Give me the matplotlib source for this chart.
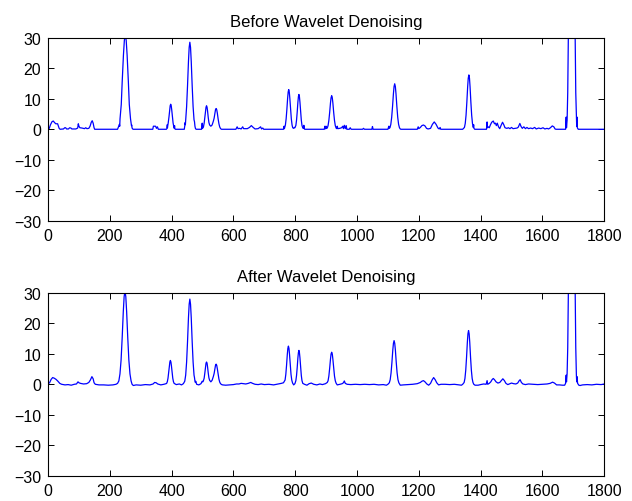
import numpy as np
import matplotlib
matplotlib.use('Agg')
import matplotlib.pyplot as plt

plt.rcParams['font.family'] = ['Liberation Sans', 'DejaVu Sans']

# (sample index, amplitude) vertices of the raw signal
before = np.array([
    (0, 0.3), (4, 0.3), (8, 1.5), (13, 2.5), (17, 2.7), (21, 2.2), (25, 1.8), (31, 1.8), (33, 1.2),
    (36, 0.3), (39, 0), (50, 0.1), (54, 0.5), (57, 0.5), (60, 0.1), (66, 0.1), (70, 0.5), (74, 0.4),
    (77, 0.1), (90, 0.1), (96, 0.4), (98, 1.8), (100, 1.0), (103, 0.5), (110, 0.4), (118, 0.2),
    (122, 0.5), (126, 0.2), (132, 0.3), (136, 1.0), (140, 2.3), (143, 2.8), (146, 2.0), (149, 0.5),
    (151, 0), (225, 0), (229, 1.1), (231, 1.6), (232, 1.0), (233, 3.4), (237, 8.1), (240, 15.5),
    (244, 24.2), (247, 29.1), (250, 31), (253, 29.1), (256, 24.2), (260, 15.5), (263, 8.1), (267, 3.4),
    (270, 1.2), (271, 1.4), (272, 0.4), (275, 0),
    (339, 0), (341, 1.0), (348, 1.0), (351, 0.3), (354, 0.8), (357, 0),
    (383, 0), (385, 0.3), (386, 1.5), (386.5, 0.5), (387, 0.9), (389, 2.1), (391.5, 4.1), (393.7, 6.4),
    (395.3, 7.7), (397, 8.2), (398.7, 7.7), (400.3, 6.4), (402.5, 4.1), (404.7, 2.1), (406.9, 0.9),
    (408.5, 0.3), (409.5, 1.2), (410.5, 0.2), (412, 0),
    (441, 0), (442.5, 1.0), (444, 2.2), (444.5, 1.5), (445.5, 3.1), (448.5, 7.4), (451.5, 14.3),
    (454.5, 22.2), (456.8, 26.8), (459, 28.5), (461.2, 26.8), (463.5, 22.2), (466.5, 14.3), (469.5, 7.4),
    (472.5, 3.1), (474, 2.5), (475.5, 1.0), (477, 0.3), (479, 0),
    (497, 0), (499, 2), (500, 0.3), (503, 0.8), (505.3, 2.0), (507.5, 3.85), (509.7, 6.0), (511.3, 7.2),
    (513, 7.7), (514.7, 7.2), (516.3, 6.0), (518.5, 3.85), (520.7, 2.2), (523, 1.4), (527, 1.0),
    (531, 1.4), (534.9, 2.6), (537.5, 3.6), (540.1, 5.3), (542, 6.4), (544, 6.8), (546, 6.4), (547.9, 5.3),
    (550.5, 3.4), (553.1, 1.8), (555.7, 0.75), (558.3, 0.24), (561, 0),
    (608, 0), (612, 0.8), (615, 0.2), (620, 0.3), (625, 0.1), (630, 0.8), (633, 0.2), (645, 0.2),
    (652, 0.6), (658, 1.2), (664, 0.6), (670, 0.1), (680, 0.2), (688, 0.8), (691, 0.1), (695, 0.4), (698, 0),
    (762, 0), (764, 1.0), (765, 0.2), (768.2, 1.4), (770.6, 3.4), (773, 6.5), (775.4, 10.1), (777.2, 12.2),
    (779, 13), (780.8, 12.2), (782.6, 10.1), (785, 6.5), (787.4, 3.4), (789.8, 1.4), (792, 0.5),
    (795, 0.3), (797, 0.6), (799, 0.5), (802.1, 1.25), (804.3, 3.0), (806.5, 5.7), (808.7, 8.9),
    (810.4, 10.7), (812, 11.4), (813.6, 10.7), (815.3, 8.9), (817.5, 5.7), (819.7, 3.0), (821.9, 1.25),
    (824.5, 0.4), (827, 0.3), (828, 1.3), (829, 0.2), (831, 0),
    (894, 0), (896, 1.0), (897, 0.2), (899, 0.2), (900, 1.0), (901, 0.3), (903.7, 0.4), (906.3, 1.2),
    (908.9, 2.9), (911.5, 5.5), (914.1, 8.6), (916, 10.3), (918, 11), (920, 10.3), (921.9, 8.6),
    (924.5, 5.5), (927.1, 2.9), (929.7, 1.2), (932.3, 0.4), (934.5, 0.2), (936, 1.0), (938, 0.2),
    (944, 0.3), (950, 0.5), (954, 1.0), (956, 0.2), (959, 1.3), (962, 0.2), (965, 1.2), (967, 0), (975, 0),
    (978, 0.5), (981, 0), (1018, 0), (1021, 0.3), (1024, 0), (1048, 0), (1050, 0.9), (1052, 0),
    (1100, 0), (1103, 1.0), (1104, 0.3), (1106.6, 0.5), (1109.4, 1.6), (1112.2, 3.9), (1115, 7.45),
    (1117.8, 11.6), (1119.9, 14.0), (1122, 14.9), (1124.1, 14.0), (1126.2, 11.6), (1129, 7.45),
    (1131.8, 3.9), (1134.6, 1.6), (1137.4, 0.5), (1140, 0.1), (1142, 0),
    (1195, 0), (1198, 0.8), (1200, 0.2), (1205, 0.6), (1210, 1.2), (1215, 1.4), (1220, 1.1), (1225, 0.3),
    (1230, 0.1), (1238, 0.3), (1244, 1.6), (1250, 2.4), (1256, 1.6), (1262, 0.4), (1266, 0.1), (1269, 0.6),
    (1271, 0),
    (1342, 0), (1347.7, 0.6), (1350.3, 1.9), (1352.9, 4.6), (1355.5, 8.9), (1358.1, 13.9), (1360, 16.7),
    (1362, 17.8), (1364, 16.7), (1365.9, 13.9), (1368.5, 8.9), (1371.1, 4.6), (1373.7, 1.9), (1376.3, 0.6),
    (1377.5, 1.5), (1378.5, 0.3), (1381, 0),
    (1419, 0), (1421, 2.4), (1422, 0.5), (1425, 0.8), (1428, 0.5), (1432, 1.5), (1436, 2.3), (1441, 2.7),
    (1445, 1.8), (1448, 2.0), (1451, 1.2), (1454, 2.0), (1458, 0.8), (1462, 0.2), (1466, 1.2), (1471, 2.3),
    (1475, 1.5), (1479, 0.5), (1485, 0.3), (1490, 0.5), (1495, 0.2), (1500, 0.6), (1505, 0.2), (1512, 0.3),
    (1518, 0.4), (1522, 0.7), (1527, 1.9), (1531, 0.9), (1535, 0.3), (1540, 0.8), (1545, 0.2), (1550, 0.6),
    (1555, 0.2), (1562, 0.4), (1568, 0.2), (1575, 0.6), (1580, 0.1), (1588, 0.4), (1595, 0.2), (1602, 0.5),
    (1608, 0.1), (1615, 0.3), (1620, 0.1), (1626, 0.5), (1632, 1.1), (1637, 0.8), (1641, 0.1), (1644, 0),
    (1675, 0), (1677, 4), (1678, 0.5), (1680, 3), (1682, 12), (1684, 30), (1688, 70), (1695, 90),
    (1702, 70), (1706, 30), (1708, 12), (1710, 4), (1711, 1.0), (1712, 4), (1713, 0.5), (1716, 0),
    (1800, 0),
])

# (sample index, amplitude) vertices of the denoised signal
after = np.array([
    (0, 0.2), (5, 0.5), (10, 1.6), (15, 2.2), (20, 2.0), (26, 1.6), (32, 1.0), (38, 0.3), (44, 0),
    (55, -0.2), (65, -0.1), (75, -0.3), (85, 0), (92, 0.1), (97, 0.8), (100, 0.5), (105, 0.3), (115, 0.1),
    (125, 0.2), (132, 0.6), (137, 1.4), (142, 2.5), (146, 1.8), (149, 0.5), (153, 0), (165, -0.2),
    (180, -0.2), (195, -0.3), (210, -0.2), (220, 0), (225, 0.3), (229.2, 1.1), (232.8, 3.4), (236.4, 7.9),
    (240, 15.3), (243.6, 23.8), (246.3, 28.7), (249, 30.5), (251.7, 28.7), (254.4, 23.8), (258, 15.3),
    (261.6, 7.9), (265.2, 3.4), (268.8, 1.1), (272, 0), (276, -0.4), (285, -0.2), (300, -0.3), (315, -0.1),
    (330, -0.2), (340, 0.1), (345, 0.6), (350, 0.5), (355, 0.1), (365, -0.2), (375, 0), (382, 0.2),
    (383.9, 0.3), (386.1, 0.86), (388.3, 2.0), (390.5, 3.9), (392.7, 6.1), (394.3, 7.3), (396, 7.8),
    (397.7, 7.3), (399.3, 6.1), (401.5, 3.9), (403.7, 2.0), (405.9, 0.86), (408.1, 0.3), (410, 0.2),
    (415, -0.1), (425, 0.1), (432, -0.2), (438, 0.2), (442.5, 1.0), (445.5, 3.0), (448.5, 7.3),
    (451.5, 14), (454.5, 21.8), (456.8, 26.2), (459, 27.9), (461.2, 26.2), (463.5, 21.8), (466.5, 14),
    (469.5, 7.3), (472.5, 3.0), (474, 2.2), (475.5, 1.0), (477, 0.6), (478, 1.0), (481, 0), (488, -0.2),
    (495, 0.2), (499, 1.0), (501, 0.8), (503, 1.2), (505.3, 2.0), (507.5, 3.7), (509.7, 5.7), (511.3, 6.9),
    (513, 7.3), (514.7, 6.9), (516.3, 5.7), (518.5, 3.7), (520.7, 2.1), (523, 1.3), (527, 0.8), (531, 1.3),
    (534.9, 2.5), (537.5, 3.5), (540.1, 5.1), (542, 6.2), (544, 6.6), (546, 6.2), (547.9, 5.1),
    (550.5, 3.3), (553.1, 1.7), (555.7, 0.7), (558.3, 0.2), (562, -0.1), (565, -0.2), (575, -0.3),
    (590, -0.2), (600, -0.1), (610, 0.1), (618, 0.1), (625, 0.3), (632, 0.2), (640, 0.1), (648, 0.3),
    (656, 0.6), (662, 0.3), (670, 0), (680, -0.1), (690, 0.1), (700, -0.1), (715, 0), (730, -0.2),
    (745, 0.1), (755, 0.3), (762, 0.5), (767.2, 1.4), (769.6, 3.25), (772, 6.25), (774.4, 9.75),
    (776.2, 11.75), (778, 12.5), (779.8, 11.75), (781.6, 9.75), (784, 6.25), (786.4, 3.25), (788.8, 1.4),
    (791.5, 0.4), (795, -0.2), (799, 0.2), (802.1, 1.2), (804.3, 2.9), (806.5, 5.55), (808.7, 8.7),
    (810.4, 10.4), (812, 11.1), (813.6, 10.4), (815.3, 8.7), (817.5, 5.55), (819.7, 2.9), (821.9, 1.2),
    (824.5, 0.3), (830, 0), (838, -0.3), (845, 0.2), (852, 0.4), (860, 0), (870, -0.2), (880, 0.1),
    (888, -0.1), (898, 0.2), (903.7, 0.6), (906.3, 1.15), (908.9, 2.7), (911.5, 5.25), (914.1, 8.2),
    (916, 9.9), (918, 10.5), (920, 9.9), (921.9, 8.2), (924.5, 5.25), (927.1, 2.7), (929.7, 1.15),
    (932.3, 0.37), (936, -0.2), (945, 0), (952, 0.2), (956, 0.5), (959, 1.1), (962, 0.3), (968, 0),
    (980, -0.1), (995, 0), (1010, -0.1), (1025, 0), (1040, -0.1), (1055, 0), (1070, -0.2), (1085, -0.1),
    (1095, -0.3), (1100, 0), (1104.6, 0.5), (1107.4, 1.5), (1110.2, 3.7), (1113, 7.15), (1115.8, 11.2),
    (1117.9, 13.4), (1120, 14.3), (1122.1, 13.4), (1124.2, 11.2), (1127, 7.15), (1129.8, 3.7),
    (1132.6, 1.5), (1135.4, 0.5), (1140, -0.3), (1150, -0.2), (1165, -0.1), (1180, 0), (1195, 0.2),
    (1205, 0.6), (1210, 1.0), (1215, 1.2), (1220, 0.8), (1226, 0.1), (1232, -0.3), (1238, 0.3),
    (1243, 1.4), (1248, 2.2), (1253, 1.5), (1258, 0.5), (1264, -0.2), (1272, 0), (1285, 0), (1300, -0.1),
    (1315, 0), (1330, -0.2), (1338, -0.3), (1342, 0), (1346.7, 0.6), (1349.3, 1.9), (1351.9, 4.6),
    (1354.5, 8.8), (1357.1, 13.7), (1359, 16.5), (1361, 17.6), (1363, 16.5), (1364.9, 13.7), (1367.5, 8.8),
    (1370.1, 4.6), (1372.7, 1.9), (1375.3, 0.6), (1378, 0), (1382, -0.3), (1392, -0.3), (1400, -0.1),
    (1410, 0.1), (1418, 0), (1421, 1.2), (1423, 0), (1428, 0.3), (1433, 0.8), (1437, 1.5), (1441, 1.9),
    (1445, 1.5), (1450, 0.8), (1456, 0.4), (1462, 0.6), (1467, 1.2), (1472, 1.8), (1477, 1.2), (1482, 0.3),
    (1488, -0.1), (1495, 0.2), (1500, 0.4), (1507, 0.2), (1514, 0.1), (1520, 0.4), (1525, 1.2),
    (1528, 1.5), (1532, 0.6), (1537, 0.1), (1545, -0.1), (1555, 0.1), (1570, 0), (1585, -0.1), (1600, 0),
    (1615, 0.1), (1625, 0.3), (1633, 0.7), (1639, 0.4), (1646, -0.2), (1655, -0.2), (1665, -0.3),
    (1672, -0.3), (1675, 0.3), (1677, 3), (1678, 0.8), (1680, 3.5), (1682, 12), (1684, 30), (1688, 70),
    (1695, 90), (1702, 70), (1706, 30), (1708, 12), (1710, 3), (1711, 0.8), (1712, 2.5), (1714, 0.3),
    (1718, -0.3), (1722, -0.4), (1730, -0.2), (1745, -0.1), (1760, -0.2), (1775, 0), (1790, -0.1),
    (1800, 0.1),
])

titles = ['Before Wavelet Denoising', 'After Wavelet Denoising']
xticks = np.arange(0, 1801, 200)
yticks = np.arange(-30, 31, 10)

fig = plt.figure(figsize=(6.32, 5.02), dpi=100)
boxes = [[0.076, 0.558, 0.880, 0.365], [0.076, 0.050, 0.880, 0.365]]

for box, sig, title in zip(boxes, [before, after], titles):
    ax = fig.add_axes(box)
    ax.plot(sig[:, 0], sig[:, 1], color=(0, 0, 1), lw=0.9)
    ax.set_xlim(0, 1800)
    ax.set_ylim(-30, 30)
    ax.set_xticks(xticks)
    ax.set_yticks(yticks)
    ax.tick_params(direction='in', top=True, right=True, length=4, width=0.7,
                   labelsize=11.5, pad=5)
    for s in ax.spines.values():
        s.set_linewidth(0.8)
    ax.set_title(title, fontsize=12, pad=8.5)

fig.savefig('out.png', dpi=100)
